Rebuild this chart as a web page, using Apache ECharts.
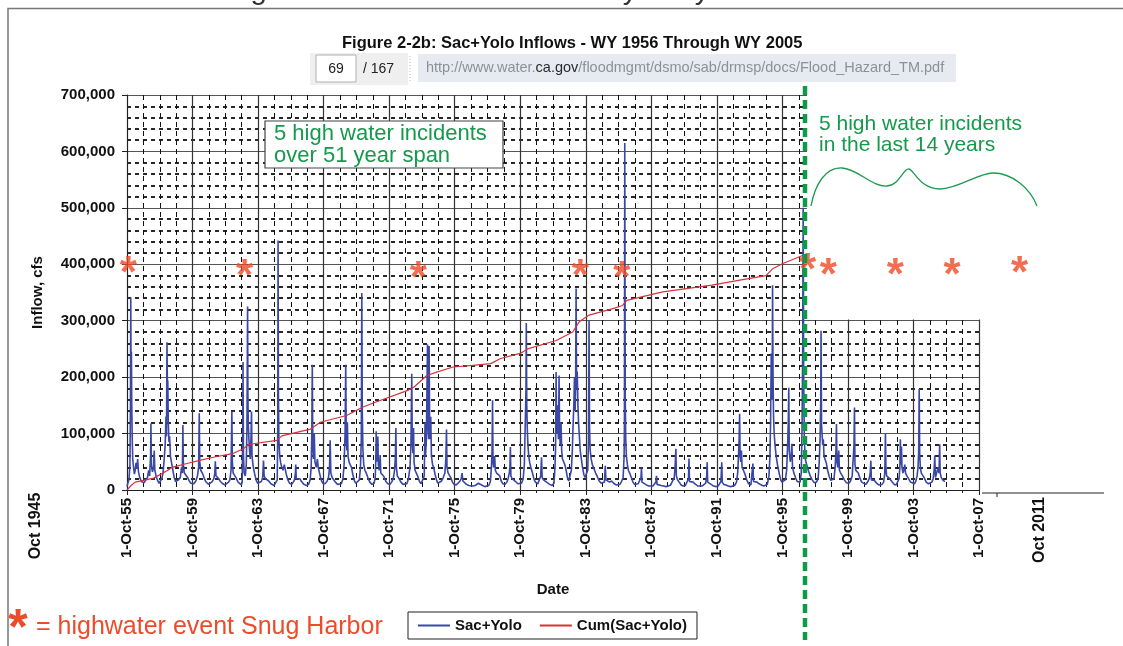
<!DOCTYPE html>
<html>
<head>
<meta charset="utf-8">
<script src="https://cdn.jsdelivr.net/npm/echarts@6/dist/echarts.min.js"></script>
<style>
  html, body { margin: 0; padding: 0; background: #fff; }
  #chart { width: 1123px; height: 646px; }
</style>
</head>
<body>
<div id="chart"></div>
<script>
const FONT = '"Liberation Sans", Arial, Helvetica, sans-serif';

// x axis runs in years counted from 1-Oct-1955; a labelled tick every 4 years
const dateTickLabels = ['1-Oct-55', '1-Oct-59', '1-Oct-63', '1-Oct-67', '1-Oct-71', '1-Oct-75', '1-Oct-79',
  '1-Oct-83', '1-Oct-87', '1-Oct-91', '1-Oct-95', '1-Oct-99', '1-Oct-03', '1-Oct-07'];
const axisSpanYears = 52;
const yMaxCfs = 700000;
const yStepCfs = 100000;

// Sac+Yolo inflow: [years since 1-Oct-55, thousand cfs]
const sacYolo = [
  [0.00, 6], [0.05, 12], [0.12, 18], [0.18, 45], [0.21, 150], [0.23, 341], [0.25, 180], [0.27, 245], [0.29, 153], [0.32, 90], [0.35, 55], [0.40, 40], [0.45, 28], [0.50, 35], [0.55, 48], [0.60, 38], [0.65, 55], [0.70, 32], [0.78, 22], [0.88, 15], [0.96, 12],
  [1.05, 13], [1.15, 18], [1.25, 22], [1.32, 35], [1.38, 25], [1.44, 60], [1.46, 118], [1.49, 45], [1.55, 32], [1.62, 40], [1.66, 70], [1.70, 35], [1.78, 24], [1.88, 16], [1.96, 12],
  [2.05, 14], [2.12, 20], [2.20, 30], [2.27, 55], [2.33, 80], [2.38, 130], [2.41, 95], [2.44, 262], [2.47, 170], [2.49, 194], [2.52, 120], [2.56, 85], [2.60, 95], [2.65, 60], [2.72, 48], [2.80, 35], [2.88, 22], [2.96, 15],
  [3.05, 13], [3.15, 18], [3.25, 22], [3.33, 40], [3.38, 30], [3.41, 115], [3.44, 45], [3.50, 30], [3.60, 28], [3.70, 22], [3.80, 16], [3.90, 12], [3.98, 10],
  [4.08, 11], [4.20, 16], [4.30, 25], [4.37, 40], [4.41, 136], [4.44, 50], [4.50, 35], [4.60, 30], [4.70, 22], [4.80, 15], [4.90, 12], [4.98, 10],
  [5.10, 11], [5.20, 15], [5.30, 20], [5.36, 30], [5.39, 51], [5.43, 25], [5.50, 22], [5.60, 20], [5.70, 15], [5.85, 11], [5.98, 9],
  [6.10, 10], [6.20, 14], [6.28, 18], [6.35, 35], [6.40, 139], [6.43, 50], [6.48, 30], [6.55, 28], [6.65, 22], [6.78, 14], [6.90, 11], [6.98, 9],
  [7.03, 14], [7.06, 90], [7.08, 227], [7.11, 60], [7.15, 30], [7.22, 25], [7.28, 45], [7.32, 110], [7.36, 325], [7.38, 170], [7.40, 120], [7.44, 90], [7.48, 70], [7.52, 55], [7.57, 95], [7.60, 139], [7.63, 60], [7.70, 42], [7.78, 30], [7.88, 18], [7.97, 12],
  [8.08, 11], [8.20, 15], [8.28, 22], [8.33, 52], [8.37, 25], [8.45, 20], [8.55, 18], [8.65, 16], [8.78, 11], [8.90, 9], [8.98, 8],
  [9.10, 10], [9.17, 18], [9.20, 110], [9.22, 442], [9.24, 180], [9.27, 90], [9.32, 60], [9.38, 48], [9.45, 40], [9.52, 35], [9.60, 45], [9.65, 38], [9.72, 28], [9.82, 18], [9.92, 12],
  [10.05, 10], [10.15, 14], [10.22, 18], [10.28, 30], [10.30, 45], [10.33, 20], [10.42, 18], [10.55, 20], [10.65, 15], [10.80, 10], [10.95, 8],
  [11.08, 10], [11.18, 18], [11.24, 40], [11.28, 100], [11.31, 222], [11.34, 80], [11.38, 55], [11.43, 100], [11.47, 50], [11.55, 40], [11.62, 55], [11.67, 40], [11.75, 30], [11.85, 18], [11.95, 12],
  [12.08, 11], [12.20, 15], [12.30, 22], [12.36, 40], [12.40, 88], [12.44, 30], [12.52, 22], [12.62, 20], [12.72, 14], [12.85, 10], [12.97, 9],
  [13.08, 11], [13.18, 20], [13.25, 45], [13.31, 100], [13.35, 222], [13.38, 90], [13.42, 70], [13.45, 120], [13.49, 60], [13.55, 50], [13.62, 45], [13.70, 40], [13.78, 28], [13.88, 16], [13.97, 12],
  [14.08, 11], [14.18, 18], [14.25, 40], [14.30, 90], [14.33, 349], [14.36, 140], [14.40, 70], [14.45, 45], [14.52, 35], [14.60, 30], [14.70, 22], [14.82, 14], [14.95, 10],
  [15.08, 12], [15.15, 22], [15.19, 60], [15.21, 104], [15.24, 50], [15.28, 70], [15.31, 95], [15.34, 45], [15.40, 35], [15.45, 62], [15.49, 30], [15.58, 28], [15.68, 24], [15.80, 15], [15.92, 11],
  [16.05, 10], [16.15, 14], [16.25, 20], [16.33, 35], [16.38, 60], [16.41, 110], [16.44, 40], [16.50, 25], [16.60, 20], [16.72, 14], [16.85, 10], [16.97, 9],
  [17.08, 11], [17.18, 20], [17.27, 40], [17.33, 80], [17.38, 206], [17.41, 90], [17.45, 65], [17.49, 110], [17.52, 50], [17.58, 35], [17.66, 30], [17.75, 24], [17.85, 15], [17.95, 11],
  [18.06, 12], [18.14, 25], [18.19, 120], [18.22, 60], [18.27, 90], [18.30, 160], [18.34, 258], [18.37, 110], [18.41, 90], [18.44, 255], [18.47, 120], [18.50, 90], [18.54, 130], [18.58, 60], [18.65, 45], [18.72, 40], [18.80, 28], [18.90, 17], [18.97, 12],
  [19.08, 11], [19.20, 16], [19.30, 22], [19.40, 30], [19.46, 55], [19.50, 107], [19.53, 40], [19.60, 30], [19.68, 32], [19.76, 22], [19.86, 14], [19.96, 10],
  [20.10, 9], [20.20, 12], [20.30, 15], [20.40, 20], [20.45, 30], [20.50, 16], [20.60, 13], [20.72, 10], [20.85, 8], [20.96, 7],
  [21.10, 7], [21.25, 8], [21.35, 10], [21.45, 12], [21.55, 10], [21.70, 8], [21.85, 6], [21.96, 6],
  [22.08, 8], [22.18, 15], [22.24, 40], [22.28, 70], [22.31, 159], [22.34, 50], [22.38, 40], [22.44, 60], [22.48, 35], [22.56, 30], [22.65, 32], [22.75, 25], [22.85, 15], [22.95, 11],
  [23.08, 10], [23.18, 14], [23.26, 20], [23.33, 30], [23.37, 40], [23.40, 76], [23.43, 25], [23.50, 20], [23.60, 22], [23.72, 15], [23.85, 11], [23.96, 10],
  [24.08, 12], [24.18, 20], [24.25, 45], [24.31, 120], [24.35, 180], [24.37, 296], [24.40, 150], [24.43, 110], [24.47, 80], [24.52, 60], [24.58, 48], [24.65, 40], [24.75, 30], [24.85, 18], [24.95, 13],
  [25.08, 11], [25.18, 14], [25.25, 25], [25.30, 58], [25.34, 22], [25.42, 18], [25.52, 16], [25.65, 13], [25.80, 10], [25.95, 8],
  [26.06, 12], [26.12, 40], [26.16, 80], [26.19, 209], [26.22, 100], [26.26, 150], [26.29, 120], [26.33, 90], [26.37, 203], [26.40, 110], [26.44, 80], [26.49, 120], [26.53, 70], [26.58, 55], [26.65, 50], [26.72, 45], [26.80, 35], [26.88, 22], [26.96, 16],
  [27.06, 18], [27.12, 35], [27.18, 70], [27.22, 110], [27.27, 150], [27.31, 200], [27.35, 140], [27.38, 180], [27.41, 357], [27.44, 180], [27.48, 210], [27.52, 150], [27.56, 120], [27.60, 100], [27.66, 70], [27.73, 55], [27.80, 40], [27.88, 28], [27.95, 22],
  [28.05, 20], [28.12, 35], [28.17, 90], [28.20, 301], [28.23, 110], [28.27, 70], [28.33, 55], [28.40, 45], [28.50, 38], [28.60, 30], [28.70, 24], [28.82, 16], [28.94, 12],
  [29.06, 11], [29.14, 14], [29.19, 43], [29.23, 18], [29.32, 15], [29.45, 14], [29.58, 16], [29.70, 12], [29.85, 9], [29.96, 8],
  [30.08, 10], [30.18, 15], [30.28, 22], [30.34, 60], [30.36, 120], [30.38, 615], [30.41, 160], [30.44, 90], [30.48, 60], [30.54, 45], [30.60, 35], [30.68, 30], [30.78, 22], [30.88, 14], [30.97, 10],
  [31.08, 9], [31.20, 11], [31.30, 14], [31.37, 22], [31.40, 40], [31.43, 14], [31.55, 11], [31.70, 9], [31.85, 7], [31.96, 6],
  [32.10, 7], [32.20, 9], [32.28, 14], [32.32, 25], [32.35, 10], [32.45, 9], [32.60, 8], [32.75, 7], [32.90, 6],
  [33.05, 7], [33.18, 9], [33.30, 12], [33.40, 22], [33.45, 40], [33.50, 73], [33.53, 25], [33.60, 18], [33.70, 14], [33.82, 9], [33.95, 7],
  [34.08, 8], [34.20, 10], [34.27, 20], [34.30, 56], [34.33, 15], [34.42, 12], [34.55, 14], [34.70, 10], [34.85, 7], [34.96, 6],
  [35.10, 7], [35.22, 8], [35.32, 12], [35.38, 25], [35.41, 49], [35.44, 14], [35.52, 11], [35.65, 10], [35.80, 7], [35.95, 6],
  [36.08, 7], [36.18, 9], [36.25, 15], [36.30, 49], [36.33, 14], [36.42, 10], [36.55, 9], [36.70, 7], [36.85, 6], [36.96, 6],
  [37.08, 8], [37.20, 14], [37.27, 30], [37.32, 60], [37.36, 90], [37.39, 135], [37.42, 60], [37.46, 50], [37.50, 70], [37.54, 40], [37.62, 35], [37.72, 28], [37.82, 18], [37.94, 11],
  [38.08, 9], [38.15, 12], [38.20, 47], [38.24, 15], [38.35, 12], [38.45, 14], [38.58, 11], [38.72, 9], [38.86, 7], [38.96, 7],
  [39.08, 10], [39.18, 25], [39.24, 60], [39.28, 120], [39.32, 242], [39.35, 160], [39.38, 200], [39.40, 363], [39.43, 200], [39.46, 130], [39.50, 100], [39.55, 80], [39.62, 60], [39.70, 45], [39.80, 30], [39.90, 18], [39.97, 14],
  [40.08, 12], [40.18, 18], [40.26, 35], [40.32, 80], [40.36, 120], [40.39, 181], [40.42, 70], [40.48, 50], [40.54, 60], [40.58, 82], [40.62, 40], [40.70, 30], [40.80, 22], [40.90, 15], [40.98, 12],
  [41.08, 14], [41.15, 30], [41.20, 110], [41.24, 250], [41.27, 500], [41.30, 200], [41.34, 90], [41.40, 55], [41.48, 45], [41.58, 35], [41.70, 25], [41.82, 18], [41.94, 13],
  [42.08, 14], [42.18, 20], [42.25, 50], [42.30, 90], [42.34, 160], [42.36, 282], [42.39, 117], [42.42, 100], [42.46, 80], [42.50, 90], [42.54, 60], [42.60, 55], [42.68, 48], [42.76, 35], [42.86, 24], [42.95, 17],
  [43.06, 15], [43.15, 20], [43.22, 40], [43.27, 70], [43.30, 117], [43.33, 50], [43.38, 40], [43.44, 70], [43.48, 35], [43.56, 30], [43.66, 25], [43.78, 18], [43.90, 13],
  [44.06, 12], [44.16, 16], [44.26, 25], [44.33, 60], [44.37, 80], [44.40, 146], [44.43, 45], [44.48, 35], [44.55, 38], [44.63, 30], [44.72, 22], [44.84, 14], [44.95, 11],
  [45.08, 10], [45.20, 14], [45.30, 20], [45.36, 30], [45.40, 52], [45.43, 18], [45.52, 16], [45.62, 17], [45.75, 12], [45.88, 9], [45.97, 9],
  [46.08, 10], [46.18, 14], [46.25, 30], [46.29, 100], [46.32, 40], [46.36, 25], [46.45, 22], [46.55, 20], [46.68, 15], [46.82, 10], [46.95, 9],
  [47.06, 12], [47.12, 20], [47.17, 40], [47.20, 90], [47.23, 45], [47.27, 77], [47.30, 40], [47.36, 30], [47.42, 35], [47.47, 45], [47.52, 30], [47.60, 25], [47.70, 20], [47.82, 14], [47.94, 11],
  [48.06, 11], [48.15, 16], [48.22, 25], [48.28, 40], [48.32, 70], [48.35, 179], [48.38, 65], [48.42, 40], [48.48, 30], [48.56, 28], [48.65, 22], [48.78, 14], [48.92, 11],
  [49.04, 11], [49.12, 14], [49.20, 20], [49.26, 35], [49.30, 61], [49.34, 22], [49.42, 25], [49.50, 40], [49.56, 30], [49.60, 81], [49.63, 30], [49.70, 22], [49.78, 18], [49.86, 16], [49.92, 15]
];

// Cumulative Sac+Yolo (scaled onto the inflow axis): [years since 1-Oct-55, thousand]
const cumSacYolo = [
  [0, 0], [0.25, 8], [0.5, 14], [1.0, 17], [1.63, 21], [2.44, 34], [2.74, 40], [3.66, 47], [4.5, 53], [5.28, 58],
  [6.5, 65], [7.1, 73], [7.4, 80], [7.7, 82], [9.15, 88], [9.45, 96], [11.2, 108], [11.8, 120], [13.4, 132],
  [14.4, 147], [15.2, 156], [17.1, 176], [17.5, 182], [18.3, 203], [18.9, 209], [19.9, 218], [21.1, 221],
  [22.2, 224], [22.8, 233], [24.0, 242], [24.45, 250], [26.2, 265], [27.2, 280], [27.6, 298], [28.2, 310],
  [29.6, 321], [30.25, 327], [30.5, 336], [32.7, 351], [35.7, 363], [37.4, 372], [39.0, 380], [39.4, 392],
  [40.0, 401], [41.0, 413], [41.35, 417]
];

// Highwater events at Snug Harbor (years since 1-Oct-55) and the height the markers sit at (thousand)
const highwaterYears = [0.08, 7.17, 17.78, 27.66, 30.2, 41.53, 42.81, 46.89, 50.35, 54.47];
const highwaterMarkK = [399, 393, 391, 393, 390, 405, 396, 395, 395, 399];

// Start of the "last 14 years" period
const dividerYears = 41.38;

const chart = echarts.init(document.getElementById('chart'), null, { renderer: 'canvas' });

const option = {
  animation: false,
  backgroundColor: '#fff',
  title: {
    text: 'Figure 2-2b: Sac+Yolo Inflows - WY 1956 Through WY 2005',
    left: 342, top: 35, padding: 0,
    textStyle: { fontFamily: FONT, fontSize: 16.5, fontWeight: 'bold', color: '#111' }
  },
  legend: {
    left: 408, top: 612,
    backgroundColor: '#fff', borderColor: '#222', borderWidth: 1, borderRadius: 0,
    padding: [6, 10], itemGap: 18, itemWidth: 32, itemHeight: 2, icon: 'rect',
    textStyle: { fontFamily: FONT, fontSize: 15, fontWeight: 'bold', color: '#111' },
    data: ['Sac+Yolo', 'Cum(Sac+Yolo)']
  },
  grid: [
    { left: 127, top: 95, width: 852, height: 395 },
    { left: 127, top: 95, width: 852 * 60 / axisSpanYears, height: 395 }
  ],
  xAxis: [
    {
      gridIndex: 0, type: 'value', min: 0, max: axisSpanYears, interval: 4,
      name: 'Date', nameLocation: 'middle', nameGap: 92,
      nameTextStyle: { fontFamily: FONT, fontSize: 15, fontWeight: 'bold', color: '#111' },
      axisLine: { show: true, onZero: false, lineStyle: { color: '#222', width: 1 } },
      axisTick: { show: true, length: 5, lineStyle: { color: '#222' } },
      minorTick: { show: true, splitNumber: 4, length: 3, lineStyle: { color: '#222' } },
      axisLabel: {
        rotate: 90, margin: 8, interval: 0,
        fontFamily: FONT, fontSize: 15, fontWeight: 'bold', color: '#111',
        formatter: v => dateTickLabels[Math.round(v / 4)] || ''
      },
      splitLine: { show: true, lineStyle: { color: '#333', width: 1.2 } },
      minorSplitLine: { show: true, lineStyle: { color: '#111', width: 1, type: [5, 4] } }
    },
    { gridIndex: 1, type: 'value', min: 0, max: 60, show: false }
  ],
  yAxis: [
    {
      gridIndex: 0, type: 'value', min: 0, max: yMaxCfs, interval: yStepCfs,
      name: 'Inflow, cfs', nameLocation: 'middle', nameGap: 82,
      nameTextStyle: { fontFamily: FONT, fontSize: 15, fontWeight: 'bold', color: '#111' },
      axisLine: { show: true, lineStyle: { color: '#222', width: 1 } },
      axisTick: { show: true, length: 5, lineStyle: { color: '#222' } },
      minorTick: { show: false, splitNumber: 5 },
      axisLabel: {
        margin: 12, fontFamily: FONT, fontSize: 15, fontWeight: 'bold', color: '#111',
        formatter: v => v.toLocaleString('en-US')
      },
      splitLine: { show: true, lineStyle: { color: '#555', width: 1.2 } },
      minorSplitLine: { show: true, lineStyle: { color: '#111', width: 1.8, type: [4, 4] } }
    },
    { gridIndex: 1, type: 'value', min: 0, max: yMaxCfs, show: false }
  ],
  series: [
    {
      name: 'Sac+Yolo', type: 'line', xAxisIndex: 0, yAxisIndex: 0,
      symbol: 'none',
      data: sacYolo.map(([t, k]) => [t, k * 1000]),
      lineStyle: { color: '#3a47a5', width: 1.6 },
      itemStyle: { color: '#3a47a5' },
      z: 3
    },
    {
      name: 'Cum(Sac+Yolo)', type: 'line', xAxisIndex: 0, yAxisIndex: 0,
      symbol: 'none',
      data: cumSacYolo.map(([t, k]) => [t, k * 1000]),
      lineStyle: { color: '#d8323c', width: 1.2 },
      itemStyle: { color: '#d8323c' },
      z: 4
    },
    {
      name: 'highwater', type: 'scatter', xAxisIndex: 1, yAxisIndex: 1,
      clip: false, silent: true,
      symbol: 'circle', symbolSize: 1,
      itemStyle: { color: 'rgba(0,0,0,0)' },
      data: highwaterYears.map((t, i) => [t, highwaterMarkK[i] * 1000]),
      label: {
        show: true, position: 'inside', formatter: '*', offset: [0, 10],
        fontFamily: FONT, fontSize: 44, fontWeight: 'bold', color: '#f04a25'
      },
      z: 60
    }
  ]
};

chart.setOption(option);

// Overlay annotations, placed from the axes' own scales
const xDiv = chart.convertToPixel({ xAxisIndex: 0 }, dividerYears);
const y300 = chart.convertToPixel({ yAxisIndex: 0 }, 300000);
const green = '#15994c';

// curly brace over the last 14 years, as a chain of cubic segments
const braceSegments = [
  [811, 206, 815, 185, 825, 167, 842, 168],
  [842, 168, 858, 169, 872, 187, 887, 186],
  [887, 186, 900, 185, 903, 168, 909, 169],
  [909, 169, 914, 170, 920, 189, 940, 189],
  [940, 189, 958, 189, 978, 173, 993, 173],
  [993, 173, 1012, 173, 1030, 188, 1037, 206]
];
const braceGraphics = braceSegments.map(s => ({
  type: 'bezierCurve', z: 71,
  shape: { x1: s[0], y1: s[1], cpx1: s[2], cpy1: s[3], cpx2: s[4], cpy2: s[5], x2: s[6], y2: s[7] },
  style: { stroke: '#1d9a50', lineWidth: 1.3, fill: null }
}));

chart.setOption({
  graphic: [
    // page frame and the heading cut off at the top edge
    { type: 'text', x: 0, y: -8.7, z: 90,
      style: { text: '1957 to 2011 – 5 highwater events or once every 2.8 years', font: '29.5px ' + FONT, fill: '#333', verticalAlign: 'middle' } },
    { type: 'polyline', z: 100, shape: { points: [[8, 646], [8, 8.5], [1123, 8.5]] },
      style: { stroke: '#777', lineWidth: 1.5, fill: null } },

    // page-number box and address bar
    { type: 'rect', z: 80, shape: { x: 310, y: 53, width: 98, height: 32 }, style: { fill: '#efefef' } },
    { type: 'rect', z: 81, shape: { x: 316, y: 55, width: 40, height: 27 }, style: { fill: '#fff', stroke: '#b0b0b0', lineWidth: 1 } },
    { type: 'text', z: 82, x: 336, y: 69, style: { text: '69', font: '14px ' + FONT, fill: '#222', align: 'center', verticalAlign: 'middle' } },
    { type: 'text', z: 82, x: 363, y: 69, style: { text: '/ 167', font: '14px ' + FONT, fill: '#222', verticalAlign: 'middle' } },
    { type: 'line', z: 81, shape: { x1: 410, y1: 56, x2: 410, y2: 82 }, style: { stroke: '#bbb', lineWidth: 1, lineDash: [1, 2] } },
    { type: 'rect', z: 80, shape: { x: 418, y: 54, width: 538, height: 28 }, style: { fill: '#e7ebf1' } },
    { type: 'text', z: 82, x: 426, y: 68,
      style: {
        text: '{a|http://www.water.}{b|ca.gov}{a|/floodmgmt/dsmo/sab/drmsp/docs/Flood_Hazard_TM.pdf}',
        verticalAlign: 'middle',
        rich: {
          a: { font: '14.5px ' + FONT, fill: '#8b9099' },
          b: { font: '14.5px ' + FONT, fill: '#2a2a2a' }
        }
      } },

    // blank upper-right region of the plot
    { type: 'rect', z: 50, shape: { x: xDiv + 2, y: 86, width: 1123 - xDiv, height: y300 - 86 - 1.2 }, style: { fill: '#fff' } },

    // annotations
    { type: 'rect', z: 70, shape: { x: 265, y: 121, width: 238, height: 47 }, style: { fill: '#fff', stroke: '#444', lineWidth: 1.2 } },
    { type: 'text', z: 71, x: 274, y: 123,
      style: { text: '5 high water incidents\nover 51 year span', font: '22px ' + FONT, lineHeight: 22, fill: green } },
    { type: 'text', z: 71, x: 819, y: 114,
      style: { text: '5 high water incidents\nin the last 14 years', font: '21px ' + FONT, lineHeight: 21, fill: green } },
    ...braceGraphics,
    { type: 'line', z: 100, shape: { x1: xDiv, y1: 86, x2: xDiv, y2: 640 },
      style: { stroke: '#0f9a48', lineWidth: 4.5, lineDash: [9, 5] } },

    // extended time axis to Oct 2011
    { type: 'line', z: 70, shape: { x1: 982, y1: 493, x2: 1104, y2: 493 }, style: { stroke: '#222', lineWidth: 1 } },
    { type: 'line', z: 70, shape: { x1: 997, y1: 493, x2: 997, y2: 497 }, style: { stroke: '#222', lineWidth: 1 } },
    { type: 'text', z: 71, x: 1040, y: 530, rotation: Math.PI / 2,
      style: { text: 'Oct 2011', font: 'bold 16px ' + FONT, fill: '#111', align: 'center', verticalAlign: 'middle' } },
    { type: 'text', z: 71, x: 36, y: 526, rotation: Math.PI / 2,
      style: { text: 'Oct 1945', font: 'bold 16px ' + FONT, fill: '#111', align: 'center', verticalAlign: 'middle' } },

    // footnote
    { type: 'text', z: 71, x: 18, y: 630,
      style: { text: '*', font: 'bold 50px ' + FONT, fill: '#ee4b2b', align: 'center', verticalAlign: 'middle' } },
    { type: 'text', z: 71, x: 36, y: 627,
      style: { text: '= highwater event Snug Harbor', font: '25px ' + FONT, fill: '#ee4b2b', verticalAlign: 'middle' } }
  ]
});
</script>
</body>
</html>
